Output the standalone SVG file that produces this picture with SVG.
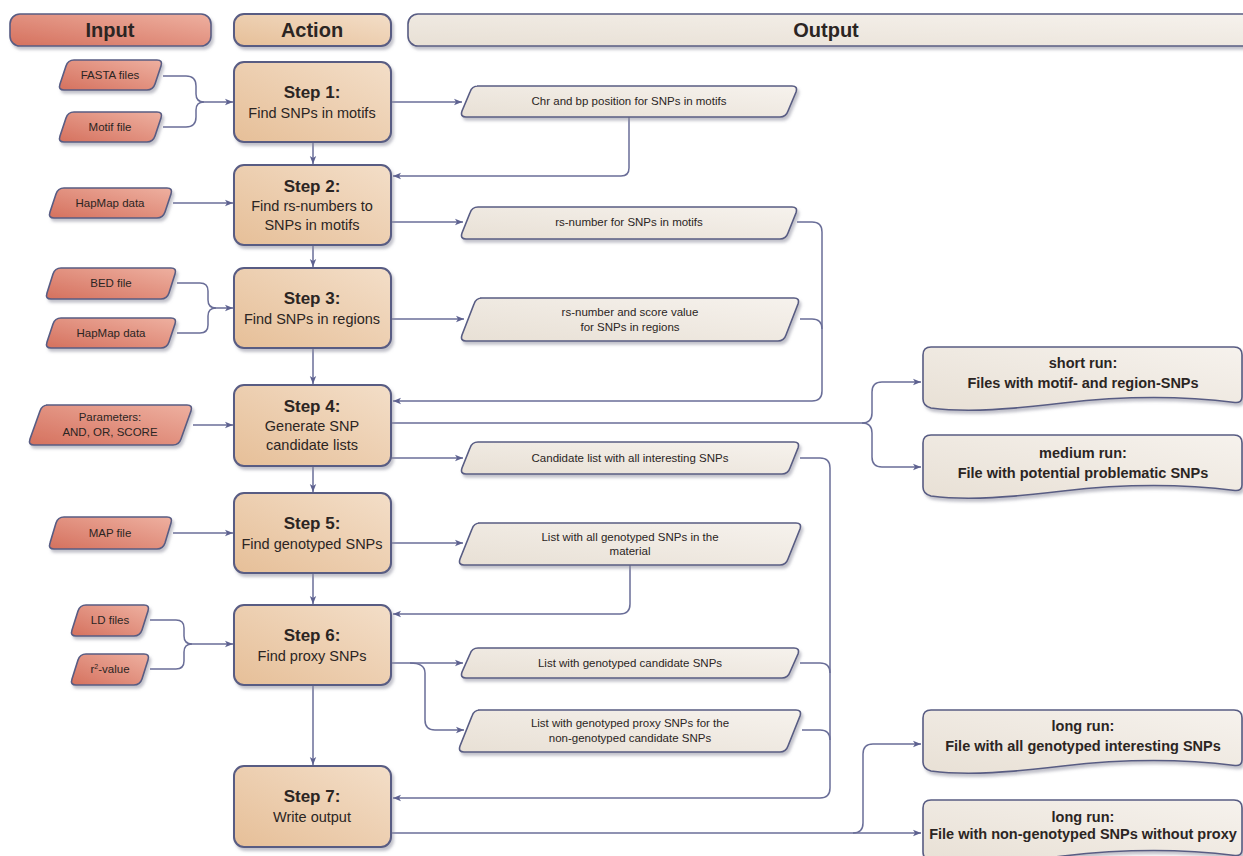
<svg xmlns="http://www.w3.org/2000/svg" width="1243" height="856" viewBox="0 0 1243 856">
<defs>
<linearGradient id="gIn" x1="0" y1="1" x2="1" y2="0"><stop offset="0" stop-color="#d5715e"/><stop offset="1" stop-color="#eeb0a0"/></linearGradient>
<linearGradient id="gAct" x1="0" y1="1" x2="1" y2="0"><stop offset="0" stop-color="#e6bf98"/><stop offset="1" stop-color="#f3dec8"/></linearGradient>
<linearGradient id="gOut" x1="0" y1="1" x2="1" y2="0"><stop offset="0" stop-color="#e8e0d5"/><stop offset="1" stop-color="#f6f2ed"/></linearGradient>
<filter id="sh" x="-5%" y="-10%" width="115%" height="140%"><feDropShadow dx="2" dy="3" stdDeviation="1.5" flood-color="#8e8e9e" flood-opacity="0.55"/></filter>
<marker id="ah" viewBox="0 0 10 10" refX="10" refY="5" markerWidth="8" markerHeight="8" markerUnits="userSpaceOnUse" orient="auto"><path d="M0,1 L10,5 L0,9 L2.5,5 Z" fill="#5d6190"/></marker>
<path id="run" d="M8,0 H311 Q319,0 319,8 V50 Q319,56 312,55.5 C260,49 200,49 140,56 C90,62 45,66 8,61 Q0,59 0,52 V8 Q0,0 8,0 Z"/>
</defs>
<style>
.inp{fill:url(#gIn);stroke:#585c83;stroke-width:1.6;filter:url(#sh)}
.act{fill:url(#gAct);stroke:#585c83;stroke-width:2;filter:url(#sh)}
.out{fill:url(#gOut);stroke:#585c83;stroke-width:1.6;filter:url(#sh)}
.conn path{fill:none;stroke:#6a6e98;stroke-width:1.5}
.arr{marker-end:url(#ah)}
text{font-family:"Liberation Sans",Arial,sans-serif;fill:#2b2523;text-anchor:middle}
.hd{font-size:20px;font-weight:bold}
.st{font-size:17px;font-weight:bold}
.sd{font-size:14.5px}
.il{font-size:11.5px}
.ol{font-size:11.5px}
.rl{font-size:14.5px;font-weight:bold}
</style>
<rect width="1243" height="856" fill="#ffffff"/>

<!-- headers -->
<g id="hdr-input"><rect class="inp" x="10" y="14" width="201" height="32" rx="10"/><text class="hd" x="110" y="37">Input</text></g>
<g id="hdr-action"><rect class="act" x="234" y="14" width="157" height="32" rx="10"/><text class="hd" x="312" y="37">Action</text></g>
<g id="hdr-output"><rect class="out" x="408" y="14" width="850" height="32" rx="10"/><text class="hd" x="826" y="37">Output</text></g>

<!-- connectors -->
<g id="connectors" class="conn">
<path class="arr" d="M163,76 H186 Q196,76 196,86 V94 Q196,102 204,102 H233"/>
<path d="M163,127 H186 Q196,127 196,117 V110 Q196,102 204,102"/>
<path class="arr" d="M313,142 V164"/>
<path class="arr" d="M391,102 H462"/>
<path class="arr" d="M629,117 V168 Q629,176 621,176 H393"/>
<path class="arr" d="M173,203 H233"/>
<path class="arr" d="M391,222 H463"/>
<path class="arr" d="M313,245 V267"/>
<path class="arr" d="M797,222 H812 Q822,222 822,232 V391 Q822,401 812,401 H393"/>
<path d="M800,319 H812 Q822,319 822,329"/>
<path class="arr" d="M177,283 H200 Q208,283 208,291 V300 Q208,308 216,308 H233"/>
<path d="M177,333 H200 Q208,333 208,325 V316 Q208,308 216,308"/>
<path class="arr" d="M391,319 H464"/>
<path class="arr" d="M313,348 V384"/>
<path class="arr" d="M193,425 H233"/>
<path class="arr" d="M391,423 H862 Q872,423 872,413 V392 Q872,382 882,382 H921"/>
<path class="arr" d="M862,423 Q872,423 872,433 V457 Q872,467 882,467 H921"/>
<path class="arr" d="M391,458 H463"/>
<path class="arr" d="M800,458 H820 Q830,458 830,468 V788 Q830,798 820,798 H393"/>
<path class="arr" d="M313,466 V492"/>
<path class="arr" d="M173,533 H233"/>
<path class="arr" d="M391,543 H463"/>
<path class="arr" d="M630,565 V604 Q630,614 620,614 H393"/>
<path class="arr" d="M313,573 V604"/>
<path class="arr" d="M150,620 H176 Q184,620 184,628 V636 Q184,644 192,644 H233"/>
<path d="M150,669 H176 Q184,669 184,661 V652 Q184,644 192,644"/>
<path class="arr" d="M391,663 H463"/>
<path class="arr" d="M410,663 Q425,663 425,673 V720 Q425,730 435,730 H464"/>
<path d="M800,663 H820 Q830,663 830,673"/>
<path d="M802,730 H820 Q830,730 830,740"/>
<path class="arr" d="M313,685 V765"/>
<path class="arr" d="M391,833 H921"/>
<path class="arr" d="M853,833 Q863,833 863,823 V754 Q863,744 873,744 H921"/>
</g>

<!-- input nodes -->
<g id="in-fasta"><path class="inp" d="M74,60 H157 Q163,60 161,66 L155,84 Q153,90 147,90 H64 Q58,90 60,84 L66,66 Q68,60 74,60 Z"/><text class="il" x="110" y="79">FASTA files</text></g>
<g id="in-motif"><path class="inp" d="M74,112 H157 Q163,112 161,118 L155,136 Q153,142 147,142 H64 Q58,142 60,136 L66,118 Q68,112 74,112 Z"/><text class="il" x="110" y="131">Motif file</text></g>
<g id="in-hapmap1"><path class="inp" d="M64,188 H167 Q173,188 171,194 L165,212 Q163,218 157,218 H54 Q48,218 50,212 L56,194 Q58,188 64,188 Z"/><text class="il" x="110" y="207">HapMap data</text></g>
<g id="in-bed"><path class="inp" d="M61,268 H171 Q177,268 175,274 L169,293 Q167,299 161,299 H51 Q45,299 47,293 L53,274 Q55,268 61,268 Z"/><text class="il" x="111" y="287">BED file</text></g>
<g id="in-hapmap2"><path class="inp" d="M61,318 H171 Q177,318 175,324 L169,342 Q167,348 161,348 H51 Q45,348 47,342 L53,324 Q55,318 61,318 Z"/><text class="il" x="111" y="337">HapMap data</text></g>
<g id="in-params"><path class="inp" d="M46,405 H187 Q193,405 191,411 L181,439 Q179,445 173,445 H34 Q28,445 30,439 L40,411 Q42,405 48,405 Z"/><text class="il" x="110" y="421">Parameters:</text><text class="il" x="110" y="436">AND, OR, SCORE</text></g>
<g id="in-map"><path class="inp" d="M64,517 H167 Q173,517 171,523 L165,543 Q163,549 157,549 H54 Q48,549 50,543 L56,523 Q58,517 64,517 Z"/><text class="il" x="110" y="537">MAP file</text></g>
<g id="in-ld"><path class="inp" d="M86,605 H144 Q150,605 148,611 L142,630 Q140,636 134,636 H76 Q70,636 72,630 L78,611 Q80,605 86,605 Z"/><text class="il" x="110" y="624">LD files</text></g>
<g id="in-r2"><path class="inp" d="M86,654 H144 Q150,654 148,660 L142,679 Q140,685 134,685 H76 Q70,685 72,679 L78,660 Q80,654 86,654 Z"/><text class="il" x="110" y="673">r<tspan font-size="7" dy="-4">2</tspan><tspan dy="4">-value</tspan></text></g>

<!-- action nodes -->
<g id="step1"><rect class="act" x="234" y="62" width="157" height="80" rx="10"/><text class="st" x="312" y="98">Step 1:</text><text class="sd" x="312" y="118">Find SNPs in motifs</text></g>
<g id="step2"><rect class="act" x="234" y="165" width="157" height="80" rx="10"/><text class="st" x="312" y="192">Step 2:</text><text class="sd" x="312" y="211">Find rs-numbers to</text><text class="sd" x="312" y="230">SNPs in motifs</text></g>
<g id="step3"><rect class="act" x="234" y="268" width="157" height="80" rx="10"/><text class="st" x="312" y="304">Step 3:</text><text class="sd" x="312" y="324">Find SNPs in regions</text></g>
<g id="step4"><rect class="act" x="234" y="385" width="157" height="81" rx="10"/><text class="st" x="312" y="412">Step 4:</text><text class="sd" x="312" y="431">Generate SNP</text><text class="sd" x="312" y="450">candidate lists</text></g>
<g id="step5"><rect class="act" x="234" y="493" width="157" height="80" rx="10"/><text class="st" x="312" y="529">Step 5:</text><text class="sd" x="312" y="549">Find genotyped SNPs</text></g>
<g id="step6"><rect class="act" x="234" y="605" width="157" height="80" rx="10"/><text class="st" x="312" y="641">Step 6:</text><text class="sd" x="312" y="661">Find proxy SNPs</text></g>
<g id="step7"><rect class="act" x="234" y="766" width="157" height="81" rx="10"/><text class="st" x="312" y="802">Step 7:</text><text class="sd" x="312" y="822">Write output</text></g>

<!-- output nodes -->
<g id="out-chr"><path class="out" d="M477,86 H792 Q798,86 796,92 L788,111 Q786,117 780,117 H466 Q460,117 462,111 L470,92 Q472,86 478,86 Z"/><text class="ol" x="629" y="105">Chr and bp position for SNPs in motifs</text></g>
<g id="out-rs"><path class="out" d="M478,207 H792 Q798,207 796,213 L788,233 Q786,239 780,239 H466 Q460,239 462,233 L470,213 Q472,207 478,207 Z"/><text class="ol" x="629" y="226">rs-number for SNPs in motifs</text></g>
<g id="out-score"><path class="out" d="M480,298 H794 Q800,298 798,304 L786,335 Q784,341 778,341 H466 Q460,341 462,335 L474,304 Q476,298 482,298 Z"/><text class="ol" x="630" y="316">rs-number and score value</text><text class="ol" x="630" y="331">for SNPs in regions</text></g>
<g id="out-cand"><path class="out" d="M478,442 H794 Q800,442 798,448 L790,468 Q788,474 782,474 H466 Q460,474 462,468 L470,448 Q472,442 478,442 Z"/><text class="ol" x="630" y="462">Candidate list with all interesting SNPs</text></g>
<g id="out-geno"><path class="out" d="M478,523 H796 Q802,523 800,529 L788,559 Q786,565 780,565 H464 Q458,565 460,559 L472,529 Q474,523 480,523 Z"/><text class="ol" x="630" y="541">List with all genotyped SNPs in the</text><text class="ol" x="630" y="555">material</text></g>
<g id="out-gcand"><path class="out" d="M478,648 H794 Q800,648 798,654 L790,672 Q788,678 782,678 H466 Q460,678 462,672 L470,654 Q472,648 478,648 Z"/><text class="ol" x="630" y="667">List with genotyped  candidate SNPs</text></g>
<g id="out-proxy"><path class="out" d="M478,710 H796 Q802,710 800,716 L788,746 Q786,752 780,752 H464 Q458,752 460,746 L472,716 Q474,710 480,710 Z"/><text class="ol" x="630" y="727">List with genotyped proxy SNPs for the</text><text class="ol" x="630" y="742">non-genotyped candidate SNPs</text></g>

<!-- run outputs -->
<g id="run-short"><use href="#run" class="out" x="923" y="347"/><text class="rl" x="1083" y="368">short run:</text><text class="rl" x="1083" y="388">Files with motif- and region-SNPs</text></g>
<g id="run-medium"><use href="#run" class="out" x="923" y="435"/><text class="rl" x="1083" y="458">medium run:</text><text class="rl" x="1083" y="478">File with potential problematic SNPs</text></g>
<g id="run-long1"><use href="#run" class="out" x="923" y="710"/><text class="rl" x="1083" y="731">long run:</text><text class="rl" x="1083" y="751">File with all genotyped interesting SNPs</text></g>
<g id="run-long2"><use href="#run" class="out" x="923" y="800"/><text class="rl" x="1083" y="822">long run:</text><text class="rl" x="1083" y="839">File with non-genotyped SNPs without proxy</text></g>
</svg>
